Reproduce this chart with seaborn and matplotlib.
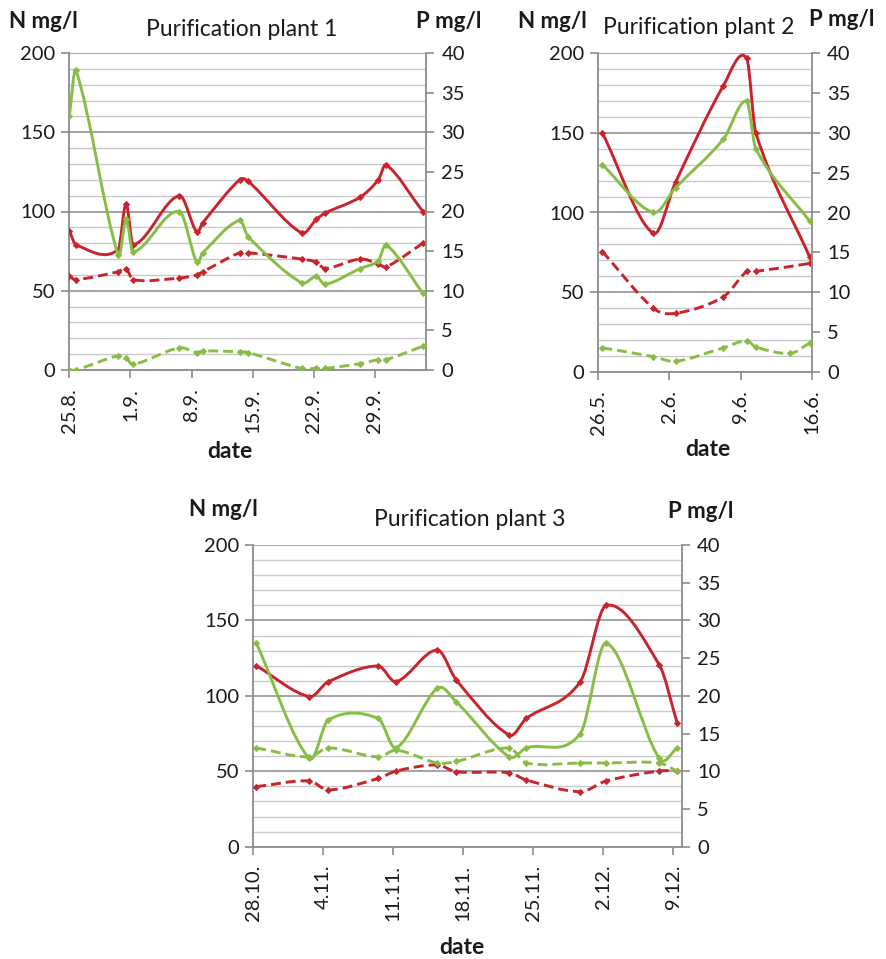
import numpy as np
import matplotlib
matplotlib.use("Agg")
import matplotlib.pyplot as plt
from matplotlib.path import Path
from matplotlib.patches import PathPatch
import seaborn as sns

sns.set_theme(style="white")
plt.rcParams["font.family"] = ["Lato", "DejaVu Sans"]

RED = "#C9232B"
GREEN = "#88BD45"

# ---- Purification plant 1 (days counted from 25.8.) ----
p1_days = [0, 0.76, 5.6, 6.5, 7.3, 12.6, 14.6, 15.3, 19.5, 20.5, 26.6, 28.3, 29.3, 33.3, 35.4, 36.3, 40.5]
p1_n_in = [88, 79, 76, 105, 79, 110, 87, 93, 120, 119, 86.5, 95, 99, 109, 120, 129.5, 100]
p1_n_out = [59, 57, 62, 64, 57, 58, 60, 62, 74, 74, 70, 68, 64, 70, 67, 65, 80]
p1_p_in = [32, 37.8, 14.5, 19, 14.9, 20, 13.6, 14.8, 18.9, 16.8, 11, 11.8, 10.8, 12.8, 13.8, 15.8, 9.7]
p1_p_out = [0, 0, 1.8, 1.5, 0.7, 2.8, 2.2, 2.4, 2.3, 2.2, 0.2, 0.2, 0.2, 0.8, 1.3, 1.3, 3.0]
p1_ticks = ["25.8.", "1.9.", "8.9.", "15.9.", "22.9.", "29.9."]

# ---- Purification plant 2 (days counted from 26.5.) ----
p2_days = [0.4, 5.4, 7.6, 12.3, 14.6, 15.5, 20.8]
p2_n_in = [150, 87, 119, 179.6, 197, 150, 72]
p2_n_out = [75.5, 40, 36.7, 47, 63, 63, 68]
p2_p_in = [26, 20, 23.1, 29.2, 34, 28, 18.9]
p2_p_out_days = [0.4, 5.4, 7.6, 12.3, 14.6, 15.5, 18.9, 20.8]
p2_p_out = [3, 1.9, 1.3, 3, 3.9, 3.1, 2.3, 3.6]
p2_ticks = ["26.5.", "2.6.", "9.6.", "16.6."]

# ---- Purification plant 3 (days counted from 28.10.) ----
p3_days = [0.3, 5.6, 7.5, 12.5, 14.3, 18.4, 20.3, 25.6, 27.3, 32.7, 35.3, 40.6, 42.4]
p3_n_in = [120, 99.5, 109.4, 119.8, 109.4, 130.4, 110.5, 74, 85, 109.4, 160, 120.5, 81.8]
p3_n_out = [39.8, 43.6, 37.6, 45.3, 50.2, 54.2, 49.7, 49, 44.2, 36.5, 43.6, 50.2, 50.2]
p3_p_in = [27, 11.7, 16.8, 17, 13.1, 21, 19.2, 11.9, 13.1, 15, 27, 11.7, 13.1]
p3_p_out = [13.1, 11.9, 13.1, 11.9, 12.8, 11.1, 11.3, 13.1, 11.1, 11.1, 11.1, 11.1, 10.0]
p3_ticks = ["28.10.", "4.11.", "11.11.", "18.11.", "25.11.", "2.12.", "9.12."]

W, H = 886, 959
fig = plt.figure(figsize=(W / 100, H / 100), dpi=100)

GRID_MINOR = "#c9c9c9"
GRID_MAJOR = "#9c9c9c"
AXIS = "#8c8c8c"
TXT = "#1a1a1a"
FS_TICK = 14.5
FS_LABEL = 16
FS_TITLE = 16.5


def fx(px):
    return px / W


def fy(py):
    return 1 - py / H


def smooth_path(x, y):
    """Cubic Bezier path through the points (smoothed line)."""
    x = np.asarray(x, float)
    y = np.asarray(y, float)
    n = len(x)
    m = np.empty(n)
    for i in range(n):
        a, b = max(i - 1, 0), min(i + 1, n - 1)
        m[i] = (y[b] - y[a]) / (x[b] - x[a])
    verts = [(x[0], y[0])]
    codes = [Path.MOVETO]
    for i in range(n - 1):
        h = x[i + 1] - x[i]
        verts += [(x[i] + h / 3, y[i] + m[i] * h / 3),
                  (x[i + 1] - h / 3, y[i + 1] - m[i + 1] * h / 3),
                  (x[i + 1], y[i + 1])]
        codes += [Path.CURVE4] * 3
    return Path(verts, codes)


def series(ax, x, y, color, dashed):
    ls = (0, (3.4, 1.7)) if dashed else "-"
    ax.add_patch(PathPatch(smooth_path(x, y), fc="none", ec=color, lw=2.1,
                           ls=ls, capstyle="butt", joinstyle="round", zorder=3))
    sns.scatterplot(x=x, y=y, ax=ax, marker="D", s=14, color=color,
                    edgecolor=color, linewidth=0, zorder=4, legend=False)


def panel(rect, xmax, ticks, title, n_in, n_out, p_in, p_out, days, p_out_days,
          txt_pos):
    l, t, r, b = rect
    ax = fig.add_axes([fx(l), fy(b), fx(r) - fx(l), fy(t) - fy(b)])
    ax2 = ax.twinx()

    series(ax, days, n_in, RED, False)
    series(ax, days, n_out, RED, True)
    series(ax2, days, p_in, GREEN, False)
    series(ax2, p_out_days, p_out, GREEN, True)

    ax.set_xlim(0, xmax)
    ax.set_ylim(0, 200)
    ax2.set_ylim(0, 40)

    ax.set_yticks(np.arange(0, 201, 50))
    ax.set_yticks(np.arange(0, 201, 10), minor=True)
    ax.grid(axis="y", which="minor", color=GRID_MINOR, lw=1.0)
    ax.grid(axis="y", which="major", color=GRID_MAJOR, lw=1.3)
    ax.grid(axis="x", visible=False)
    ax.set_axisbelow(True)
    ax2.set_yticks(np.arange(0, 41, 5))
    ax2.grid(False)

    ax.set_xticks([7 * i for i in range(len(ticks))])
    ax.set_xticklabels(ticks, rotation=90)

    ax.tick_params(axis="y", which="major", direction="out", length=6, width=1.2,
                   color=AXIS, labelsize=FS_TICK, labelcolor=TXT, pad=4, left=True)
    ax.tick_params(axis="y", which="minor", length=0)
    ax.tick_params(axis="x", direction="out", length=6, width=1.2, color=AXIS,
                   labelsize=FS_TICK, labelcolor=TXT, pad=7, bottom=True)
    ax2.tick_params(axis="y", direction="out", length=6, width=1.2, color=AXIS,
                    labelsize=FS_TICK, labelcolor=TXT, pad=5, right=True)

    for s in ("top", "right"):
        ax.spines[s].set_visible(False)
    for s in ("left", "bottom"):
        ax.spines[s].set_color(AXIS)
        ax.spines[s].set_linewidth(1.3)
    for s in ("top", "left", "bottom"):
        ax2.spines[s].set_visible(False)
    ax2.spines["right"].set_color(AXIS)
    ax2.spines["right"].set_linewidth(1.3)
    ax.set_xlabel("")
    ax.set_ylabel("")
    ax2.set_ylabel("")

    (nx, ny), (tx, ty), (px_, py_), (dx, dy) = txt_pos
    fig.text(fx(nx), fy(ny), "N mg/l", ha="center", va="center", fontsize=FS_LABEL,
             fontweight="bold", color=TXT)
    fig.text(fx(px_), fy(py_), "P mg/l", ha="center", va="center", fontsize=FS_LABEL,
             fontweight="bold", color=TXT)
    fig.text(fx(tx), fy(ty), title, ha="center", va="center", fontsize=FS_TITLE,
             color=TXT)
    fig.text(fx(dx), fy(dy), "date", ha="center", va="center", fontsize=FS_LABEL + 0.5,
             fontweight="bold", color=TXT)


panel((69.3, 53, 426, 370), 40.86, p1_ticks, "Purification plant 1",
      p1_n_in, p1_n_out, p1_p_in, p1_p_out, p1_days, p1_days,
      ((43, 22), (242, 30), (449, 22), (230, 451)))

panel((598.3, 53.3, 811.7, 371.7), 21.0, p2_ticks, "Purification plant 2",
      p2_n_in, p2_n_out, p2_p_in, p2_p_out, p2_days, p2_p_out_days,
      ((552, 21), (699, 28), (842, 19), (708, 449)))

panel((253.3, 545, 681.7, 846.7), 42.84, p3_ticks, "Purification plant 3",
      p3_n_in, p3_n_out, p3_p_in, p3_p_out, p3_days, p3_days,
      ((223, 510), (470, 520), (701, 512), (462, 947)))

fig.savefig("out.png", dpi=100, facecolor="white")
